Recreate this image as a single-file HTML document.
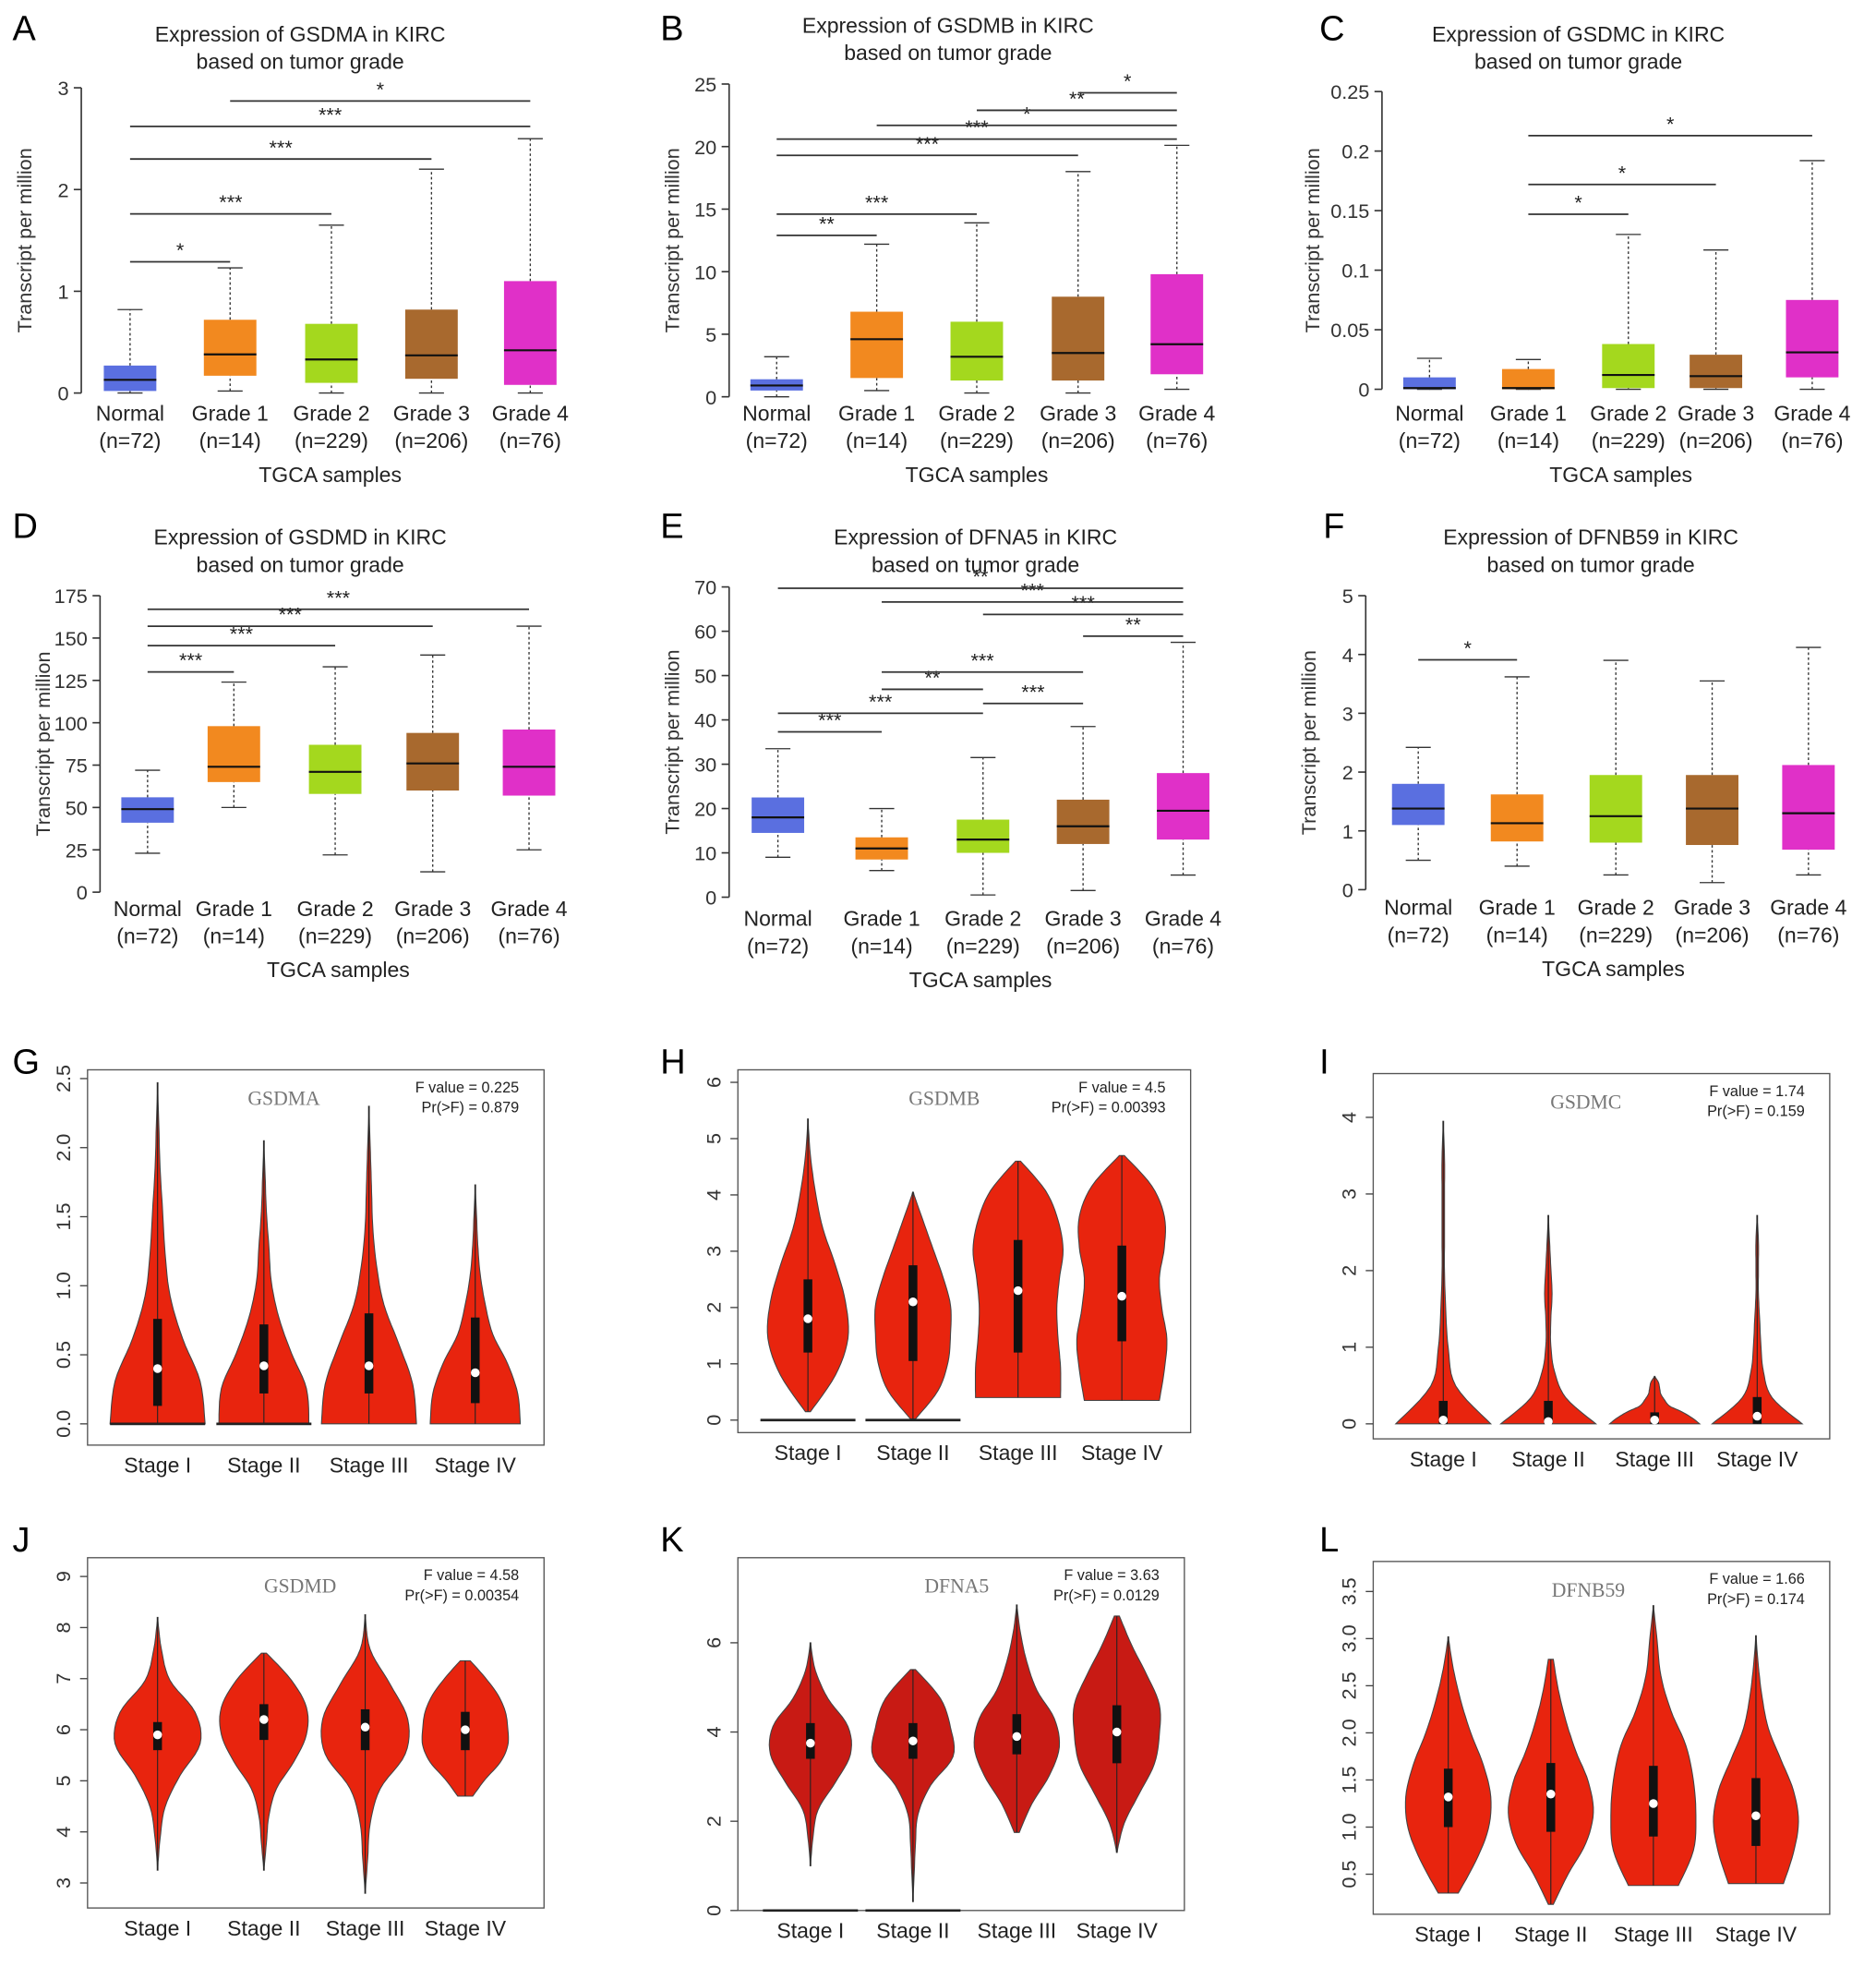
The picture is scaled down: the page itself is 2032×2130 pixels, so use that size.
<!DOCTYPE html>
<html><head><meta charset="utf-8"><style>
html,body{margin:0;padding:0;background:#fff}
svg{display:block;font-family:"Liberation Sans",sans-serif}
</style></head><body>
<svg id="fig" width="2032" height="2130" viewBox="0 0 1500 1572" xmlns="http://www.w3.org/2000/svg"></svg>
<script>
// ---------- Box panel data ----------
const boxCategories = ["Normal","Grade 1","Grade 2","Grade 3","Grade 4"];
const boxCounts = ["(n=72)","(n=14)","(n=229)","(n=206)","(n=76)"];
const boxColors = ["#5a6fe0","#f2891f","#a4d81e","#a8692e","#e030c8"];
// [low whisker, q1, median, q3, high whisker]
const gsdmaBox = [[0,0.02,0.13,0.27,0.82],[0.02,0.17,0.38,0.72,1.23],[0,0.1,0.33,0.68,1.65],[0,0.14,0.37,0.82,2.2],[0,0.08,0.42,1.1,2.5]];
const gsdmbBox = [[0,0.5,0.9,1.4,3.2],[0.5,1.5,4.6,6.8,12.2],[0.3,1.3,3.2,6.0,13.9],[0.3,1.3,3.5,8.0,18.0],[0.6,1.8,4.2,9.8,20.1]];
const gsdmcBox = [[0,0,0.001,0.01,0.026],[0,0,0.001,0.017,0.025],[0,0.001,0.012,0.038,0.13],[0,0.001,0.011,0.029,0.117],[0,0.01,0.031,0.075,0.192]];
const gsdmdBox = [[23,41,49,56,72],[50,65,74,98,124],[22,58,71,87,133],[12,60,76,94,140],[25,57,74,96,157]];
const dfna5Box = [[9,14.5,18,22.5,33.5],[6,8.5,11,13.5,20],[0.5,10,13,17.5,31.5],[1.5,12,16,22,38.5],[5,13,19.5,28,57.5]];
const dfnb59Box = [[0.5,1.1,1.38,1.8,2.42],[0.4,0.82,1.13,1.62,3.62],[0.25,0.8,1.25,1.95,3.9],[0.12,0.76,1.38,1.95,3.55],[0.25,0.68,1.3,2.12,4.12]];
// significance: [from, to, value, label]
const gsdmaSig = [[0,1,1.29,"*"],[0,2,1.76,"***"],[0,3,2.30,"***"],[0,4,2.62,"***"],[1,4,2.87,"*"]];
const gsdmbSig = [[0,1,12.9,"**"],[0,2,14.6,"***"],[0,3,19.3,"***"],[0,4,20.6,"***"],[1,4,21.7,"*"],[2,4,22.9,"**"],[3,4,24.3,"*"]];
const gsdmcSig = [[1,2,0.147,"*"],[1,3,0.172,"*"],[1,4,0.213,"*"]];
const gsdmdSig = [[0,1,130,"***"],[0,2,145.5,"***"],[0,3,157,"***"],[0,4,167,"***"]];
const dfna5Sig = [[0,1,37.3,"***"],[0,2,41.5,"***"],[2,3,43.7,"***"],[1,2,46.9,"**"],[1,3,50.8,"***"],[3,4,58.9,"**"],[2,4,63.8,"***"],[1,4,66.6,"***"],[0,4,69.7,"**"]];
const dfnb59Sig = [[0,1,3.91,"*"]];
const gsdmaTicks = [0,1,2,3];
const gsdmbTicks = [0,5,10,15,20,25];
const gsdmcTicks = [0,0.05,0.1,0.15,0.2,0.25];
const gsdmdTicks = [0,25,50,75,100,125,150,175];
const dfna5Ticks = [0,10,20,30,40,50,60,70];
const dfnb59Ticks = [0,1,2,3,4,5];

// ---------- Violin data ----------
const stageCategories = ["Stage I","Stage II","Stage III","Stage IV"];
// each violin: [min, q1, median, q3, max]
const gsdmaViolin = [[0,0.13,0.4,0.76,2.47],[0,0.22,0.42,0.72,2.05],[0,0.22,0.42,0.8,2.3],[0,0.15,0.37,0.77,1.73]];
const gsdmaDensity = [[38,34,20,10,6,4,2,1,0],[36,34,22,12,6,4,2,1,0],[38,35,24,12,6,3,2,1,0],[36,34,26,14,8,4,2,1,0]];
const gsdmbViolin = [[0.15,1.2,1.8,2.5,5.35],[0.02,1.05,2.1,2.75,4.05],[0.4,1.2,2.3,3.2,4.6],[0.35,1.4,2.2,3.1,4.7]];
const gsdmbDensity = [[2,22,32,30,22,12,6,2,0],[2,20,28,30,30,24,16,8,0],[34,34,32,31,33,36,32,22,2],[30,34,36,32,30,34,34,24,2]];
const gsdmcViolin = [[0,0.0,0.05,0.3,3.95],[0,0.0,0.03,0.3,2.72],[0,0.0,0.05,0.15,0.62],[0,0.0,0.1,0.35,2.72]];
const gsdmcDensity = [[38,10,4,2,1,1,1,1,0],[38,14,5,2,2,3,2,1,0],[36,30,22,12,8,5,4,3,0],[36,12,5,3,2,1,1,1,0]];
const gsdmdViolin = [[3.25,5.6,5.9,6.15,8.2],[3.25,5.8,6.2,6.5,7.5],[2.8,5.6,6.05,6.4,8.25],[4.7,5.6,6.0,6.35,7.35]];
const gsdmdDensity = [[0,2,6,18,34,30,10,3,0],[0,2,4,10,24,34,34,22,2],[0,2,4,12,32,34,20,4,0],[6,16,28,34,34,32,26,16,4]];
const dfna5Violin = [[1.0,3.4,3.75,4.2,6.0],[0.2,3.4,3.8,4.2,5.4],[1.75,3.5,3.9,4.4,6.85],[1.3,3.3,4.0,4.6,6.6]];
const dfna5Density = [[0,2,6,20,32,30,14,4,0],[0,1,2,4,14,32,30,22,2],[2,12,26,34,30,16,8,3,0],[0,6,18,30,34,34,24,12,2]];
const dfnb59Violin = [[0.3,1.0,1.32,1.62,3.02],[0.18,0.95,1.35,1.68,2.78],[0.38,0.9,1.25,1.65,3.35],[0.4,0.8,1.12,1.52,3.03]];
const dfnb59Density = [[8,22,32,34,28,18,10,4,0],[2,14,28,34,30,20,12,6,2],[20,32,34,32,26,14,6,3,0],[22,30,34,30,20,10,5,2,0]];
const gTicks=[0,0.5,1,1.5,2,2.5], gLabels=["0.0","0.5","1.0","1.5","2.0","2.5"];
const hTicks=[0,1,2,3,4,5,6], iTicks=[0,1,2,3,4], jTicks=[3,4,5,6,7,8,9], kTicks=[0,2,4,6];
const lTicks=[0.5,1,1.5,2,2.5,3,3.5], lLabels=["0.5","1.0","1.5","2.0","2.5","3.0","3.5"];

const NS="http://www.w3.org/2000/svg";
const svg=document.getElementById('fig');
function mk(tag,attrs,parent,text){const e=document.createElementNS(NS,tag);for(const k in attrs)e.setAttribute(k,attrs[k]);if(text!==undefined)e.textContent=text;(parent||svg).appendChild(e);return e;}

function letter(ch,x,y){const t=mk('text',{x:x,y:y,'font-size':28},svg,ch);

}

function boxPanel(o){
  const g=mk('g',{});
  
  
  const y=v=>o.y0-(v-o.ymin)/(o.ymax-o.ymin)*(o.y0-o.y1);
  const cx=i=>o.xs[i];
  const t1=mk('text',{x:o.tx,y:o.ty,'font-size':17,'text-anchor':'middle',fill:'#222'},g,o.title);
   
  const t2=mk('text',{x:o.tx,y:o.ty+22,'font-size':17,'text-anchor':'middle',fill:'#222'},g,'based on tumor grade');
   
  const ax=mk('line',{x1:o.ax,x2:o.ax,y1:y(o.ymin),y2:y(o.ymax),stroke:'#333','stroke-width':1.2},g);
   
  o.ticks.forEach(v=>{
    mk('line',{x1:o.ax-6,x2:o.ax,y1:y(v),y2:y(v),stroke:'#333','stroke-width':1.2},g);
    const tl=mk('text',{x:o.ax-10,y:y(v)+6,'font-size':16,'text-anchor':'end',fill:'#333'},g,String(v));
     
  });
  const yo=o.yoff||40;
  const yl=mk('text',{x:0,y:0,'font-size':16,'text-anchor':'middle',fill:'#333',transform:`translate(${o.ax-yo},${(y(o.ymin)+y(o.ymax))/2}) rotate(-90)`},g,'Transcript per million');
   
  o.data.forEach((d,i)=>{
    const bg=mk('g',{},g);
    
    
    const x=cx(i),w=21;
    mk('line',{x1:x,x2:x,y1:y(d[3]),y2:y(d[4]),stroke:'#333','stroke-dasharray':'2,2'},bg);
    mk('line',{x1:x,x2:x,y1:y(d[0]),y2:y(d[1]),stroke:'#333','stroke-dasharray':'2,2'},bg);
    mk('line',{x1:x-10,x2:x+10,y1:y(d[4]),y2:y(d[4]),stroke:'#333'},bg);
    mk('line',{x1:x-10,x2:x+10,y1:y(d[0]),y2:y(d[0]),stroke:'#333'},bg);
    mk('rect',{x:x-w,y:y(d[3]),width:2*w,height:Math.max(1,y(d[1])-y(d[3])),fill:boxColors[i]},bg);
    mk('line',{x1:x-w,x2:x+w,y1:y(d[2]),y2:y(d[2]),stroke:'#111','stroke-width':1.6},bg);
    const c1=mk('text',{x:x,y:o.ly,'font-size':17,'text-anchor':'middle',fill:'#222'},g,boxCategories[i]);
     
    const c2=mk('text',{x:x,y:o.ly+22,'font-size':17,'text-anchor':'middle',fill:'#222'},g,boxCounts[i]);
     
  });
  const xt=mk('text',{x:(cx(0)+cx(4))/2,y:o.ly+49,'font-size':17,'text-anchor':'middle',fill:'#222'},g,'TGCA samples');
   
  o.sig.forEach(s=>{
    const sg=mk('g',{},g);
    
    
    mk('line',{x1:cx(s[0]),x2:cx(s[1]),y1:y(s[2]),y2:y(s[2]),stroke:'#333','stroke-width':1.3},sg);
    mk('text',{x:(cx(s[0])+cx(s[1]))/2,y:y(s[2])-4,'font-size':16,'text-anchor':'middle',fill:'#222'},sg,s[3]);
  });
}

function catmull(pts,n){const out=[];for(let i=0;i<pts.length-1;i++){const p0=pts[Math.max(0,i-1)],p1=pts[i],p2=pts[i+1],p3=pts[Math.min(pts.length-1,i+2)];for(let k=0;k<n;k++){const t=k/n,t2=t*t,t3=t2*t;out.push([0.5*((2*p1[0])+(-p0[0]+p2[0])*t+(2*p0[0]-5*p1[0]+4*p2[0]-p3[0])*t2+(-p0[0]+3*p1[0]-3*p2[0]+p3[0])*t3),0.5*((2*p1[1])+(-p0[1]+p2[1])*t+(2*p0[1]-5*p1[1]+4*p2[1]-p3[1])*t2+(-p0[1]+3*p1[1]-3*p2[1]+p3[1])*t3)]);}}out.push(pts[pts.length-1]);return out;}

function violinPanel(o){
  const g=mk('g',{});
  
  
  const y=v=>o.y0-(v-o.ymin)/(o.ymax-o.ymin)*(o.y0-o.y1);
  const fr=mk('rect',{x:o.fx,y:o.fy,width:o.fw,height:o.fh,fill:'none',stroke:'#555','stroke-width':1},g);
   
  o.ticks.forEach((v,i)=>{
    mk('line',{x1:o.fx-6,x2:o.fx,y1:y(v),y2:y(v),stroke:'#444'},g);
    const lab=o.labels?o.labels[i]:String(v);
    const tl=mk('text',{x:0,y:0,'font-size':16,'text-anchor':'middle',fill:'#333',transform:`translate(${o.fx-14},${y(v)}) rotate(-90)`},g,lab);
     
  });
  const gn=mk('text',{x:o.gx,y:o.fy+28,'font-size':16,'text-anchor':'middle',fill:'#777','font-family':'Liberation Serif, serif'},g,o.gene);
   
  const f1=mk('text',{x:o.fx+o.fw-20,y:o.fy+18,'font-size':12,'text-anchor':'end',fill:'#222'},g,'F value = '+o.F);
   
  const f2=mk('text',{x:o.fx+o.fw-20,y:o.fy+34,'font-size':12,'text-anchor':'end',fill:'#222'},g,'Pr(>F) = '+o.P);
   
  o.data.forEach((d,i)=>{
    const x=o.xs[i];
    const vg=mk('g',{},g);
    
    
    const dens=o.dens[i],n=dens.length;
    const pts=dens.map((w,k)=>[w,y(d[0]+(d[4]-d[0])*k/(n-1))]);
    const sm=catmull(pts,6).map(p=>[Math.max(0.3,p[0]),p[1]]);
    let path='M'+(x)+','+sm[0][1];
    sm.forEach(p=>path+=' L'+(x+p[0]).toFixed(1)+','+p[1].toFixed(1));
    for(let k=sm.length-1;k>=0;k--)path+=' L'+(x-sm[k][0]).toFixed(1)+','+sm[k][1].toFixed(1);
    path+=' Z';
    mk('path',{d:path,fill:o.color,stroke:'#444','stroke-width':0.8},vg);
    if(o.zero&&o.zero[i]) mk('line',{x1:x-38,x2:x+38,y1:y(0),y2:y(0),stroke:'#222','stroke-width':2},vg);
    mk('line',{x1:x,x2:x,y1:y(d[0]),y2:y(d[4]),stroke:'#222','stroke-width':0.8},vg);
    mk('rect',{x:x-3.5,y:y(d[3]),width:7,height:Math.max(1,y(d[1])-y(d[3])),fill:'#111'},vg);
    mk('circle',{cx:x,cy:y(d[2]),r:3.5,fill:'#fff'},vg);
    const cl=mk('text',{x:x,y:o.fy+o.fh+22,'font-size':17,'text-anchor':'middle',fill:'#222'},g,stageCategories[i]);
     
  });
}

letter('A',10,32);letter('B',528,32);letter('C',1055,32);
letter('D',10,430);letter('E',528,430);letter('F',1058,430);
letter('G',10,858);letter('H',528,858);letter('I',1055,858);
letter('J',10,1240);letter('K',528,1240);letter('L',1055,1240);

boxPanel({id:'gsdma',title:'Expression of GSDMA in KIRC',tx:240,ty:33,ax:65,y0:314,y1:70,ymin:0,ymax:3,ticks:gsdmaTicks,xs:[104,184,265,345,424],data:gsdmaBox,sig:gsdmaSig,ly:336});
boxPanel({id:'gsdmb',title:'Expression of GSDMB in KIRC',tx:758,ty:26,ax:583,y0:317,y1:67,ymin:0,ymax:25,ticks:gsdmbTicks,xs:[621,701,781,862,941],data:gsdmbBox,sig:gsdmbSig,ly:336});
boxPanel({id:'gsdmc',title:'Expression of GSDMC in KIRC',tx:1262,ty:33,ax:1105,y0:311,y1:73,ymin:0,ymax:0.25,ticks:gsdmcTicks,xs:[1143,1222,1302,1372,1449],data:gsdmcBox,sig:gsdmcSig,ly:336,yoff:50});
boxPanel({id:'gsdmd',title:'Expression of GSDMD in KIRC',tx:240,ty:435,ax:80,y0:713,y1:476,ymin:0,ymax:175,ticks:gsdmdTicks,xs:[118,187,268,346,423],data:gsdmdBox,sig:gsdmdSig,ly:732});
boxPanel({id:'dfna5',title:'Expression of DFNA5 in KIRC',tx:780,ty:435,ax:583,y0:717,y1:469,ymin:0,ymax:70,ticks:dfna5Ticks,xs:[622,705,786,866,946],data:dfna5Box,sig:dfna5Sig,ly:740});
boxPanel({id:'dfnb59',title:'Expression of DFNB59 in KIRC',tx:1272,ty:435,ax:1092,y0:711,y1:476,ymin:0,ymax:5,ticks:dfnb59Ticks,xs:[1134,1213,1292,1369,1446],data:dfnb59Box,sig:dfnb59Sig,ly:731});

violinPanel({id:'gsdma',gene:'GSDMA',gx:227,F:'0.225',P:'0.879',fx:70,fy:855,fw:365,fh:300,y0:1138,y1:862,ymin:0,ymax:2.5,ticks:gTicks,labels:gLabels,xs:[126,211,295,380],data:gsdmaViolin,dens:gsdmaDensity,color:'#e8240e',zero:[1,1,0,0]});
violinPanel({id:'gsdmb',gene:'GSDMB',gx:755,F:'4.5',P:'0.00393',fx:590,fy:855,fw:362,fh:290,y0:1135,y1:865,ymin:0,ymax:6,ticks:hTicks,xs:[646,730,814,897],data:gsdmbViolin,dens:gsdmbDensity,color:'#e8240e',zero:[1,1,0,0]});
violinPanel({id:'gsdmc',gene:'GSDMC',gx:1268,F:'1.74',P:'0.159',fx:1098,fy:858,fw:365,fh:292,y0:1138,y1:893,ymin:0,ymax:4,ticks:iTicks,xs:[1154,1238,1323,1405],data:gsdmcViolin,dens:gsdmcDensity,color:'#e8240e'});
violinPanel({id:'gsdmd',gene:'GSDMD',gx:240,F:'4.58',P:'0.00354',fx:70,fy:1245,fw:365,fh:280,y0:1505,y1:1260,ymin:3,ymax:9,ticks:jTicks,xs:[126,211,292,372],data:gsdmdViolin,dens:gsdmdDensity,color:'#e8240e'});
violinPanel({id:'dfna5',gene:'DFNA5',gx:765,F:'3.63',P:'0.0129',fx:590,fy:1245,fw:357,fh:282,y0:1527,y1:1313,ymin:0,ymax:6,ticks:kTicks,xs:[648,730,813,893],data:dfna5Violin,dens:dfna5Density,color:'#c81a14',zero:[1,1,0,0]});
violinPanel({id:'dfnb59',gene:'DFNB59',gx:1270,F:'1.66',P:'0.174',fx:1098,fy:1248,fw:365,fh:282,y0:1498,y1:1272,ymin:0.5,ymax:3.5,ticks:lTicks,labels:lLabels,xs:[1158,1240,1322,1404],data:dfnb59Violin,dens:dfnb59Density,color:'#e8240e'});
</script>
</body></html>
